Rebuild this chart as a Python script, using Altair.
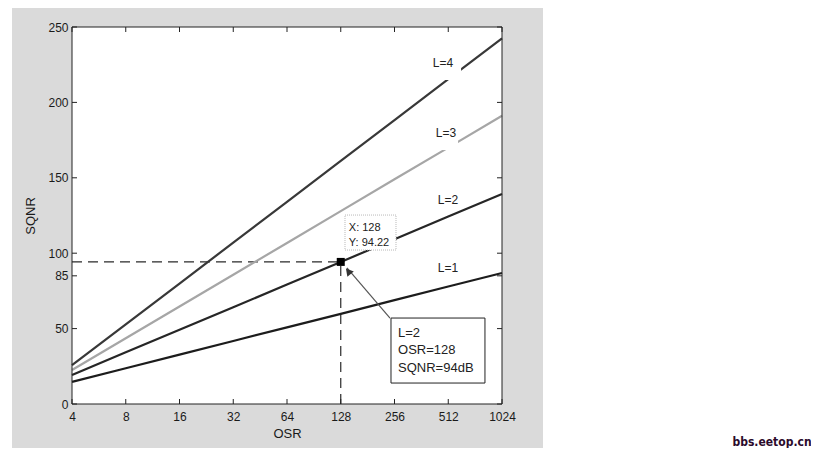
import altair as alt
import pandas as pd

# ---------------- data ----------------
osr = [4, 8, 16, 32, 64, 128, 256, 512, 1024]
sqnr_l1 = [14.7, 23.7, 32.7, 41.8, 50.8, 59.8, 68.9, 77.9, 86.9]
sqnr_l2 = [19.2, 34.3, 49.3, 64.2, 79.2, 94.2, 109.3, 124.3, 139.2]
sqnr_l3 = [22.5, 43.6, 64.7, 85.7, 106.8, 127.9, 149.0, 170.0, 191.1]
sqnr_l4 = [25.7, 52.8, 79.9, 107.0, 134.1, 161.2, 188.3, 215.4, 242.5]
series_names = ["L=1", "L=2", "L=3", "L=4"]
series_colors = ["#1c1c1c", "#262626", "#a6a6a6", "#383838"]

x_ticks = [4, 8, 16, 32, 64, 128, 256, 512, 1024]
y_ticks = [0, 50, 85, 100, 150, 200, 250]

# curve labels (data coordinates)
label_text = ["L=1", "L=2", "L=3", "L=4"]
label_x = [510, 510, 497, 478]
label_y = [90.2, 135.3, 179.7, 226.1]

# white backgrounds behind L=3 / L=4 labels
lblbg_x = [415, 394]
lblbg_x2 = [581, 604]
lblbg_y = [168.4, 214.9]
lblbg_y2 = [185.7, 234.7]

# data tip
tip_x, tip_y = 128, 94.22
tip_box = {"x": 135.2, "x2": 261, "y": 102.1, "y2": 125.3}
tip_lines = ["X: 128", "Y: 94.22"]
tip_text_x = 142
tip_text_y = [116.7, 106.6]

# annotation box + arrow
ann_box = {"x": 244.7, "x2": 822, "y": 13.9, "y2": 57.0}
ann_lines = ["L=2", "OSR=128", "SQNR=94dB"]
ann_text_x = 268
ann_text_y = [47.1, 35.8, 23.9]
arrow_start = (241.6, 57.0)
arrow_end = (138.7, 90.2)
arrow_head = (141.0, 88.0)

W, H = 430, 377
FONT = "Liberation Sans, Arial, Helvetica, sans-serif"

# ---------------- tables ----------------
rows = []
for name, vals in zip(series_names, [sqnr_l1, sqnr_l2, sqnr_l3, sqnr_l4]):
    for o, v in zip(osr, vals):
        rows.append({"OSR": o, "SQNR": v, "L": name})
lines_df = pd.DataFrame(rows)

xs = alt.Scale(type="log", base=2, domain=[4, 1024], nice=False)
ys = alt.Scale(domain=[0, 250], nice=False)
x_axis = alt.Axis(values=x_ticks, format="d", title="OSR", zindex=1,
                  labelFlush=False, labelPadding=7, titlePadding=5)
y_axis = alt.Axis(values=y_ticks, format="d", title="SQNR", zindex=1,
                  labelPadding=4, titlePadding=10)
one = alt.Data(values=[{"a": 1}])

def X(f, **kw):
    return alt.X(f, type="quantitative", scale=xs, axis=x_axis, **kw)

def Y(f, **kw):
    return alt.Y(f, type="quantitative", scale=ys, axis=y_axis, **kw)

# gray scanned backdrop & white plot area
backdrop = alt.Chart(one).mark_rect(color="#dadada").encode(
    x=alt.value(-60), x2=alt.value(471), y=alt.value(-24), y2=alt.value(425))
plotbg = alt.Chart(one).mark_rect(color="white").encode(
    x=alt.value(0), x2=alt.value(W), y=alt.value(0), y2=alt.value(H))

# dashed guide lines
guides_df = pd.DataFrame([
    {"x": 4, "x2": tip_x, "y": tip_y, "y2": tip_y},
    {"x": tip_x, "x2": tip_x, "y": 0, "y2": tip_y},
])
guides = alt.Chart(guides_df).mark_rule(
    color="#2a2a2a", strokeWidth=1.2, strokeDash=[10, 6]).encode(
    x=X("x"), x2="x2", y=Y("y"), y2="y2")

lines = alt.Chart(lines_df).mark_line(strokeWidth=2.2).encode(
    x=X("OSR"),
    y=Y("SQNR"),
    color=alt.Color("L:N", scale=alt.Scale(domain=series_names, range=series_colors),
                    legend=None),
    detail="L:N",
)

lblbg_df = pd.DataFrame({"x": lblbg_x, "x2": lblbg_x2, "y": lblbg_y, "y2": lblbg_y2})
lblbg = alt.Chart(lblbg_df).mark_rect(color="white").encode(
    x=X("x"), x2="x2", y=Y("y"), y2="y2")

labels_df = pd.DataFrame({"x": label_x, "y": label_y, "t": label_text})
labels = alt.Chart(labels_df).mark_text(
    font=FONT, fontSize=12, color="#222222", align="center", baseline="middle").encode(
    x=X("x"), y=Y("y"), text="t:N")

# arrow
arrow_df = pd.DataFrame([{"x": arrow_start[0], "y": arrow_start[1],
                          "x2": arrow_end[0], "y2": arrow_end[1]}])
arrow = alt.Chart(arrow_df).mark_rule(color="#555555", strokeWidth=1.2).encode(
    x=X("x"), x2="x2", y=Y("y"), y2="y2")
head_df = pd.DataFrame([{"x": arrow_head[0], "y": arrow_head[1]}])
head = alt.Chart(head_df).mark_point(
    shape="triangle-up", filled=True, size=70, angle=320, color="#333333", opacity=1).encode(
    x=X("x"), y=Y("y"))

# data tip
tipbox = alt.Chart(pd.DataFrame([tip_box])).mark_rect(
    fill="white", stroke="#b8b8b8", strokeWidth=1, strokeDash=[1, 1]).encode(
    x=X("x"), x2="x2", y=Y("y"), y2="y2")
tiptext = alt.Chart(pd.DataFrame({"x": [tip_text_x] * 2, "y": tip_text_y, "t": tip_lines})).mark_text(
    font=FONT, fontSize=11, color="#222222", align="left", baseline="middle").encode(
    x=X("x"), y=Y("y"), text="t:N")
marker = alt.Chart(pd.DataFrame([{"x": tip_x, "y": tip_y}])).mark_point(
    shape="square", filled=True, size=64, color="black", opacity=1).encode(
    x=X("x"), y=Y("y"))

# annotation box
annbox = alt.Chart(pd.DataFrame([ann_box])).mark_rect(
    fill="white", stroke="#222222", strokeWidth=1).encode(
    x=X("x"), x2="x2", y=Y("y"), y2="y2")
anntext = alt.Chart(pd.DataFrame({"x": [ann_text_x] * 3, "y": ann_text_y, "t": ann_lines})).mark_text(
    font=FONT, fontSize=13, color="#222222", align="left", baseline="middle").encode(
    x=X("x"), y=Y("y"), text="t:N")

# inward ticks on all four sides
xt = pd.DataFrame({"v": x_ticks})
yt = pd.DataFrame({"v": y_ticks})
tick_style = dict(color="#222222", strokeWidth=1)
xt_bottom = alt.Chart(xt).mark_rule(**tick_style).encode(
    x=X("v"), y=alt.value(H), y2=alt.value(H - 5))
xt_top = alt.Chart(xt).mark_rule(**tick_style).encode(
    x=X("v"), y=alt.value(0), y2=alt.value(5))
yt_left = alt.Chart(yt).mark_rule(**tick_style).encode(
    y=Y("v"), x=alt.value(0), x2=alt.value(5))
yt_right = alt.Chart(yt).mark_rule(**tick_style).encode(
    y=Y("v"), x=alt.value(W - 5), x2=alt.value(W))

frame = alt.Chart(one).mark_rect(fill=None, stroke="#222222", strokeWidth=1).encode(
    x=alt.value(0), x2=alt.value(W), y=alt.value(0), y2=alt.value(H))

watermark = alt.Chart(one).mark_text(
    text="bbs.eetop.cn", font="DejaVu Sans Condensed, DejaVu Sans, sans-serif",
    fontWeight="bold", fontSize=12, color="#2b0a2b", align="center",
    baseline="middle").encode(x=alt.value(700), y=alt.value(415))

chart = alt.layer(
    backdrop, plotbg, guides, lines, lblbg, labels, arrow, head,
    tipbox, tiptext, marker, annbox, anntext,
    xt_bottom, xt_top, yt_left, yt_right, frame, watermark,
).properties(
    width=W, height=H,
    padding={"left": 64, "top": 19, "right": 309, "bottom": 44},
    autosize=alt.AutoSizeParams(type="none"),
    background="white",
).configure_view(stroke=None, fill="white").configure_axis(
    labelFont=FONT, titleFont=FONT, labelFontSize=12, titleFontSize=13,
    labelColor="#1a1a1a", titleColor="#1a1a1a", titleFontWeight="normal",
    grid=False, domain=False, ticks=False, tickSize=0,
)

chart.save("out.html", embed_options={"renderer": "svg", "actions": False})
